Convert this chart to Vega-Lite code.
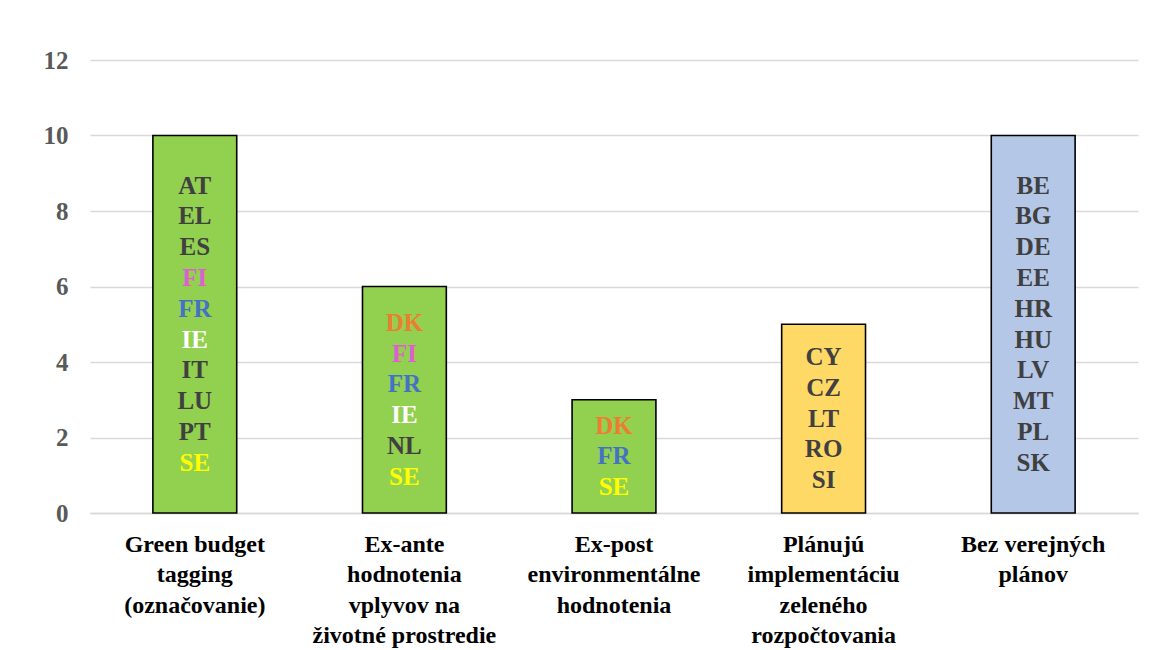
{
  "$schema": "https://vega.github.io/schema/vega-lite/v6.json",
  "width": 1048,
  "height": 453,
  "autosize": {"type": "none"},
  "padding": {"left": 90, "top": 60, "right": 15, "bottom": 137},
  "background": "white",
  "config": {
    "view": {"stroke": null},
    "font": "Times New Roman, Liberation Serif, DejaVu Serif, serif"
  },
  "datasets": {
    "plany": [
      {"kategoria": "Green budget\ntagging\n(označovanie)", "pocet": 10, "stav": "zavedené"},
      {"kategoria": "Ex-ante\nhodnotenia\nvplyvov na\nživotné prostredie", "pocet": 6, "stav": "zavedené"},
      {"kategoria": "Ex-post\nenvironmentálne\nhodnotenia", "pocet": 3, "stav": "zavedené"},
      {"kategoria": "Plánujú\nimplementáciu\nzeleného\nrozpočtovania", "pocet": 5, "stav": "plánované"},
      {"kategoria": "Bez verejných\nplánov", "pocet": 10, "stav": "bez plánov"}
    ],
    "krajiny": [
      {"kategoria": "Green budget\ntagging\n(označovanie)", "kod": "AT"},
      {"kategoria": "Green budget\ntagging\n(označovanie)", "kod": "EL"},
      {"kategoria": "Green budget\ntagging\n(označovanie)", "kod": "ES"},
      {"kategoria": "Green budget\ntagging\n(označovanie)", "kod": "FI"},
      {"kategoria": "Green budget\ntagging\n(označovanie)", "kod": "FR"},
      {"kategoria": "Green budget\ntagging\n(označovanie)", "kod": "IE"},
      {"kategoria": "Green budget\ntagging\n(označovanie)", "kod": "IT"},
      {"kategoria": "Green budget\ntagging\n(označovanie)", "kod": "LU"},
      {"kategoria": "Green budget\ntagging\n(označovanie)", "kod": "PT"},
      {"kategoria": "Green budget\ntagging\n(označovanie)", "kod": "SE"},
      {"kategoria": "Ex-ante\nhodnotenia\nvplyvov na\nživotné prostredie", "kod": "DK"},
      {"kategoria": "Ex-ante\nhodnotenia\nvplyvov na\nživotné prostredie", "kod": "FI"},
      {"kategoria": "Ex-ante\nhodnotenia\nvplyvov na\nživotné prostredie", "kod": "FR"},
      {"kategoria": "Ex-ante\nhodnotenia\nvplyvov na\nživotné prostredie", "kod": "IE"},
      {"kategoria": "Ex-ante\nhodnotenia\nvplyvov na\nživotné prostredie", "kod": "NL"},
      {"kategoria": "Ex-ante\nhodnotenia\nvplyvov na\nživotné prostredie", "kod": "SE"},
      {"kategoria": "Ex-post\nenvironmentálne\nhodnotenia", "kod": "DK"},
      {"kategoria": "Ex-post\nenvironmentálne\nhodnotenia", "kod": "FR"},
      {"kategoria": "Ex-post\nenvironmentálne\nhodnotenia", "kod": "SE"},
      {"kategoria": "Plánujú\nimplementáciu\nzeleného\nrozpočtovania", "kod": "CY"},
      {"kategoria": "Plánujú\nimplementáciu\nzeleného\nrozpočtovania", "kod": "CZ"},
      {"kategoria": "Plánujú\nimplementáciu\nzeleného\nrozpočtovania", "kod": "LT"},
      {"kategoria": "Plánujú\nimplementáciu\nzeleného\nrozpočtovania", "kod": "RO"},
      {"kategoria": "Plánujú\nimplementáciu\nzeleného\nrozpočtovania", "kod": "SI"},
      {"kategoria": "Bez verejných\nplánov", "kod": "BE"},
      {"kategoria": "Bez verejných\nplánov", "kod": "BG"},
      {"kategoria": "Bez verejných\nplánov", "kod": "DE"},
      {"kategoria": "Bez verejných\nplánov", "kod": "EE"},
      {"kategoria": "Bez verejných\nplánov", "kod": "HR"},
      {"kategoria": "Bez verejných\nplánov", "kod": "HU"},
      {"kategoria": "Bez verejných\nplánov", "kod": "LV"},
      {"kategoria": "Bez verejných\nplánov", "kod": "MT"},
      {"kategoria": "Bez verejných\nplánov", "kod": "PL"},
      {"kategoria": "Bez verejných\nplánov", "kod": "SK"}
    ]
  },
  "encoding": {
    "x": {
      "field": "kategoria",
      "type": "nominal",
      "sort": null,
      "scale": {"paddingInner": 0.6, "paddingOuter": 0.3},
      "axis": {
        "title": null,
        "labelAngle": 0,
        "labelExpr": "split(datum.label, '\\n')",
        "labelFont": "Times New Roman, Liberation Serif, DejaVu Serif, serif",
        "labelFontWeight": "bold",
        "labelFontSize": 24,
        "labelLineHeight": 30.5,
        "labelColor": "#000000",
        "labelPadding": 19,
        "labelLimit": 400,
        "ticks": false,
        "domainColor": "#d9d9d9",
        "domainWidth": 1.3
      }
    }
  },
  "layer": [
    {
      "data": {"name": "plany"},
      "mark": {"type": "bar", "stroke": "#000000", "strokeWidth": 1.6},
      "encoding": {
        "y": {
          "field": "pocet",
          "type": "quantitative",
          "scale": {"domain": [0, 12], "nice": false},
          "axis": {
            "title": null,
            "values": [0, 2, 4, 6, 8, 10, 12],
            "domain": false,
            "ticks": false,
            "gridColor": "#d9d9d9",
            "gridWidth": 1.3,
            "labelFont": "Times New Roman, Liberation Serif, DejaVu Serif, serif",
            "labelFontWeight": "bold",
            "labelFontSize": 25,
            "labelColor": "#595959",
            "labelPadding": 22
          }
        },
        "fill": {
          "field": "stav",
          "type": "nominal",
          "scale": {
            "domain": ["zavedené", "plánované", "bez plánov"],
            "range": ["#92d050", "#ffd966", "#b4c7e7"]
          },
          "legend": null
        }
      }
    },
    {
      "data": {"name": "krajiny"},
      "transform": [
        {"window": [{"op": "row_number", "as": "poradie"}], "groupby": ["kategoria"]},
        {"joinaggregate": [{"op": "count", "as": "spolu"}], "groupby": ["kategoria"]}
      ],
      "mark": {
        "type": "text",
        "font": "Times New Roman, Liberation Serif, DejaVu Serif, serif",
        "fontWeight": "bold",
        "fontSize": 25,
        "align": "center",
        "baseline": "middle",
        "dy": {"expr": "(datum.poradie - 1 - (datum.spolu - 1) / 2) * 30.8"}
      },
      "encoding": {
        "y": {
          "field": "spolu",
          "type": "quantitative",
          "scale": {"domain": [0, 24], "nice": false},
          "axis": null
        },
        "text": {"field": "kod"},
        "color": {
          "field": "kod",
          "type": "nominal",
          "scale": {
            "domain": ["AT", "BE", "BG", "CY", "CZ", "DE", "DK", "EE", "EL", "ES", "FI", "FR", "HR", "HU", "IE", "IT", "LT", "LU", "LV", "MT", "NL", "PL", "PT", "RO", "SE", "SI", "SK"],
            "range": ["#404040", "#404040", "#404040", "#404040", "#404040", "#404040", "#ed7d31", "#404040", "#404040", "#404040", "#df5fcf", "#4472c4", "#404040", "#404040", "#ffffff", "#404040", "#404040", "#404040", "#404040", "#404040", "#404040", "#404040", "#404040", "#404040", "#ffff00", "#404040", "#404040"]
          },
          "legend": null
        }
      }
    }
  ],
  "resolve": {"scale": {"y": "independent"}}
}
